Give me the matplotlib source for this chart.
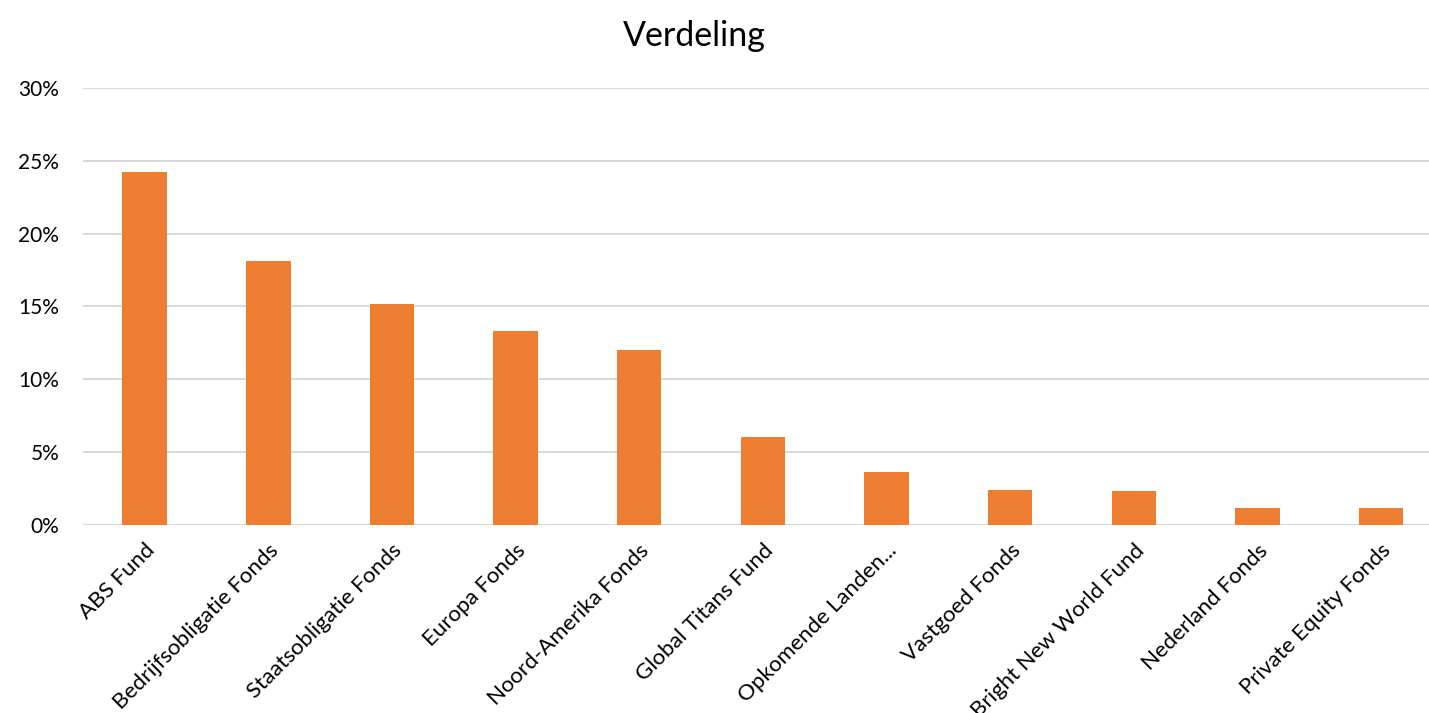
import matplotlib.pyplot as plt
import numpy as np
from matplotlib.ticker import FuncFormatter

plt.rcParams['font.family'] = ['Lato', 'DejaVu Sans']

# fund names and share of portfolio (%)
funds = ['ABS Fund', 'Bedrijfsobligatie Fonds', 'Staatsobligatie Fonds', 'Europa Fonds',
         'Noord-Amerika Fonds', 'Global Titans Fund', 'Opkomende Landen...', 'Vastgoed Fonds',
         'Bright New World Fund', 'Nederland Fonds', 'Private Equity Fonds']
shares = [24.2, 18.1, 15.2, 13.3, 12.0, 6.05, 3.65, 2.4, 2.35, 1.17, 1.17]
yticks = [0, 5, 10, 15, 20, 25, 30]

fig = plt.figure(figsize=(14.29, 7.13), dpi=100)
# plot area runs a little past the right edge, as in the original
ax = fig.add_axes([0.058, 0.2637, 0.9517, 0.6129])

x = np.arange(len(funds))
ax.bar(x, shares, width=0.36, color='#ED7D31', zorder=3)

ax.set_ylim(0, 30)
ax.set_xlim(-0.5, len(funds) - 0.5)
ax.set_yticks(yticks)
ax.yaxis.set_major_formatter(FuncFormatter(lambda v, p: '{:.0f}%'.format(v)))
ax.grid(axis='y', color='#D9D9D9', linewidth=1.5, zorder=0)
ax.set_xticks(x)
ax.set_xticklabels(funds, rotation=45, ha='right', rotation_mode='anchor', fontsize=16)
for s in ['top', 'right', 'left', 'bottom']:
    ax.spines[s].set_visible(False)
ax.tick_params(axis='both', length=0, colors='#000000')
ax.tick_params(axis='x', pad=11)
ax.tick_params(axis='y', pad=17, labelsize=15)

fig.text(0.486, 0.95, 'Verdeling', ha='center', va='center', fontsize=24.5)

fig.savefig('out.png', dpi=100)
